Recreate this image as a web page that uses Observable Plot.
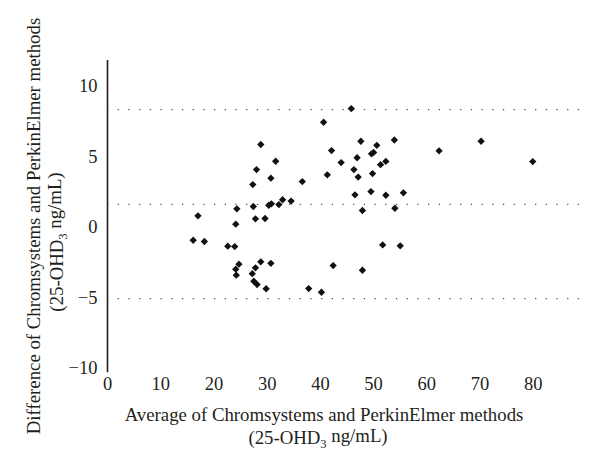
<!DOCTYPE html>
<html><head><meta charset="utf-8">
<script src="https://cdn.jsdelivr.net/npm/d3@7"></script>
<script src="https://cdn.jsdelivr.net/npm/@observablehq/plot@0.6"></script>
<style>body{margin:0;background:#fff}</style>
</head><body><div id="chart"></div>
<script>
const avg = [28.8,28.0,30.7,27.3,24.3,27.4,30.3,30.8,32.2,32.9,34.5,17.0,24.1,27.8,29.6,16.1,18.2,22.6,23.9,24.7,24.1,24.2,27.8,28.8,30.7,27.2,27.5,28.1,29.8,31.6,36.6,37.8,40.2,42.4,47.9,51.7,55.0,45.8,40.6,47.6,53.9,50.6,42.1,49.6,50.0,46.9,43.9,52.3,51.3,46.3,47.1,49.8,41.3,49.5,46.5,52.3,55.6,54.0,47.9,62.3,70.2,79.9];
const diff = [5.89,4.11,3.50,3.05,1.33,1.49,1.58,1.68,1.63,1.97,1.88,0.83,0.24,0.62,0.64,-0.90,-0.99,-1.32,-1.35,-2.60,-2.96,-3.38,-2.86,-2.43,-2.54,-3.27,-3.81,-4.04,-4.34,4.70,3.26,-4.33,-4.59,-2.70,-3.03,-1.23,-1.30,8.44,7.47,6.12,6.21,5.83,5.46,5.23,5.33,4.95,4.61,4.69,4.46,4.11,3.58,3.83,3.74,2.55,2.32,2.29,2.46,1.37,1.21,5.44,6.12,4.68];
const limits = [8.37, 1.65, -5.04];
const xTicks = [0,10,20,30,40,50,60,70,80];
const yTicks = [-10,-5,0,5,10];
const xTitle = ["Average of Chromsystems and PerkinElmer methods", "(25-OHD", "3", " ng/mL)"];
const yTitle = ["Difference of Chromsystems and PerkinElmer methods", "(25-OHD", "3", " ng/mL)"];

const points = avg.map((a, i) => ({avg: a, diff: diff[i]}));
const font = "Liberation Serif, Times New Roman, serif";

const svg = Plot.plot({
  width: 600, height: 471,
  marginLeft: 107, marginRight: 14, marginTop: 60, marginBottom: 103,
  style: {fontFamily: font, fontSize: "18.5px", color: "#231f20", background: "white"},
  x: {domain: [0, 90], ticks: xTicks, tickSize: 0, tickPadding: 8, label: null},
  y: {domain: [-10, 11.85], ticks: yTicks, tickSize: 0, tickPadding: 10, label: null},
  marks: [
    Plot.ruleY(limits, {stroke: "#555", strokeWidth: 1.3, strokeDasharray: "1.3,9.4"}),
    Plot.ruleX([0], {y1: -10.3, y2: 11.85, stroke: "#231f20", strokeWidth: 1.6}),
    Plot.dot(points, {x: "avg", y: "diff", symbol: "diamond2", fill: "#111", stroke: "none", r: 3.3})
  ]
});

const s = d3.select(svg);
function addLine(g, x, y, parts, rotate) {
  const t = g.append("text")
    .attr("text-anchor", "middle")
    .attr("font-family", font).attr("font-size", 18.8).attr("fill", "#231f20")
    .attr("transform", rotate ? `translate(${x},${y}) rotate(-90)` : `translate(${x},${y})`);
  if (parts.length === 1) { t.text(parts[0]); return; }
  t.append("tspan").text(parts[0]);
  t.append("tspan").attr("font-size", 12.5).attr("dy", "0.3em").text(parts[1]);
  t.append("tspan").attr("dy", "-0.3em").text(parts[2]);
}
addLine(s, 324, 421, [xTitle[0]], false);
addLine(s, 318, 444, xTitle.slice(1), false);
addLine(s, 40, 226, [yTitle[0]], true);
addLine(s, 63, 242, yTitle.slice(1), true);

document.getElementById("chart").appendChild(svg);
</script>
</body></html>
